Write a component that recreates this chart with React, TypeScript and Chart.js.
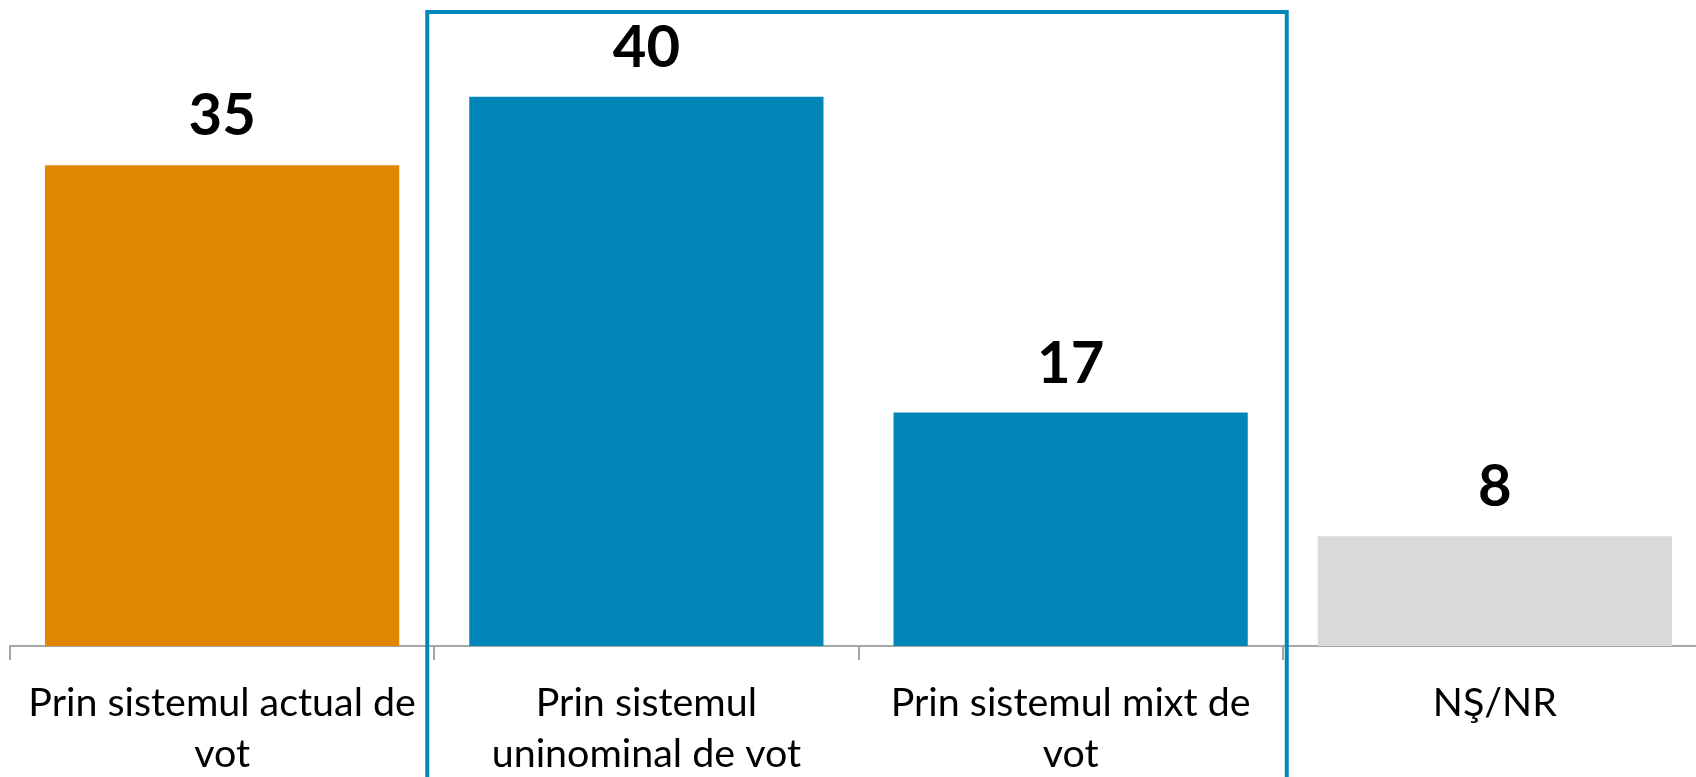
import React, { useEffect, useRef } from "react";
import { Chart, registerables } from "chart.js";

Chart.register(...registerables);

const categories: string[][] = [
  ["Prin sistemul actual de", "vot"],
  ["Prin sistemul", "uninominal de vot"],
  ["Prin sistemul mixt de", "vot"],
  ["NŞ/NR"],
];
const values: number[] = [35, 40, 17, 8];
const barColors: string[] = ["#E08600", "#0087B7", "#0087B7", "#D9D9D9"];

const valueLabelPlugin = {
  id: "valueLabels",
  afterDatasetsDraw(chart: any) {
    const ctx = chart.ctx;
    const meta = chart.getDatasetMeta(0);
    ctx.save();
    ctx.font = "bold 58px Lato";
    ctx.fillStyle = "#000000";
    ctx.textAlign = "center";
    ctx.textBaseline = "alphabetic";
    meta.data.forEach((bar: any, i: number) => {
      ctx.fillText(String(values[i]), bar.x, bar.y - 30);
    });
    ctx.restore();
  },
};

const boxPlugin = {
  id: "highlightBox",
  afterDraw(chart: any) {
    const ctx = chart.ctx;
    const x = chart.scales.x;
    const left = x.getPixelForValue(0.5) - 7;
    const right = x.getPixelForValue(2.5) + 4;
    const top = chart.chartArea.top - 16;
    const bottom = chart.height + 10;
    ctx.save();
    ctx.strokeStyle = "#0088BB";
    ctx.lineWidth = 4;
    ctx.beginPath();
    ctx.moveTo(left, bottom);
    ctx.lineTo(left, top);
    ctx.lineTo(right, top);
    ctx.lineTo(right, bottom);
    ctx.stroke();
    ctx.restore();
  },
};

export default function App() {
  const canvasRef = useRef<HTMLCanvasElement | null>(null);

  useEffect(() => {
    if (!canvasRef.current) return;
    const chart = new Chart(canvasRef.current, {
      type: "bar",
      data: {
        labels: categories,
        datasets: [
          {
            data: values,
            backgroundColor: barColors,
            borderWidth: 0,
            barPercentage: 0.835,
            categoryPercentage: 1,
          },
        ],
      },
      options: {
        animation: false,
        responsive: true,
        maintainAspectRatio: false,
        layout: { padding: { left: 10, right: 10, top: 28, bottom: 0 } },
        plugins: {
          legend: { display: false },
          tooltip: { enabled: false },
          title: { display: false },
        },
        scales: {
          x: {
            grid: {
              display: true,
              drawOnChartArea: false,
              drawTicks: true,
              tickLength: 14,
              color: "#A6A6A6",
              lineWidth: 2,
              offset: true,
            },
            border: { display: true, color: "#A6A6A6", width: 2 },
            ticks: {
              color: "#000000",
              font: { family: "Lato", size: 39.4, lineHeight: 1.29 },
              maxRotation: 0,
              autoSkip: false,
              padding: 18,
            },
            afterFit: (scale: any) => {
              scale.height = 131;
            },
          },
          y: {
            display: false,
            min: 0,
            max: 45,
          },
        },
      },
      plugins: [valueLabelPlugin, boxPlugin],
    });
    return () => chart.destroy();
  }, []);

  return (
    <div
      style={{
        position: "fixed",
        left: 0,
        top: 0,
        width: 1696,
        height: 777,
        overflow: "hidden",
        background: "#ffffff",
      }}
    >
      <div style={{ position: "absolute", left: 0, top: 0, width: 1717, height: 777 }}>
        <canvas ref={canvasRef} />
      </div>
    </div>
  );
}
